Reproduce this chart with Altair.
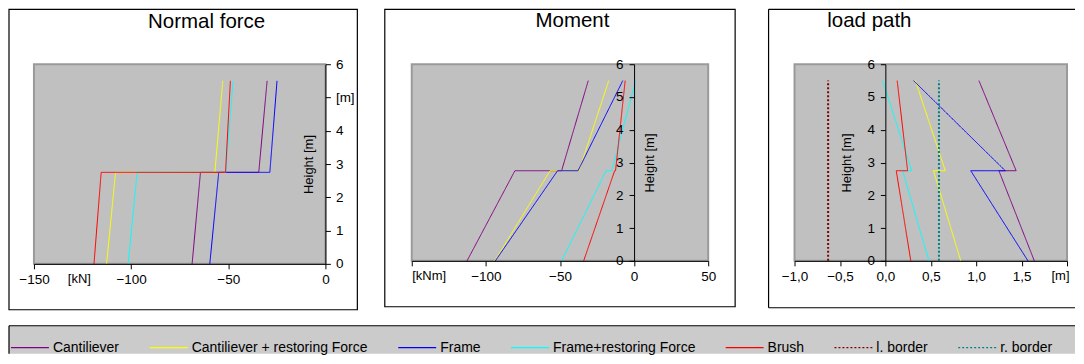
import altair as alt
import pandas as pd

FONT = "Liberation Sans"

SERIES = ["Cantiliever", "Cantiliever + restoring Force", "Frame",
          "Frame+restoring Force", "Brush", "l. border", "r. border"]
COLORS = ["#800080", "#ffff00", "#0000ff", "#00ffff", "#ff0000", "#800000", "#008080"]
DASHES = [[1, 0], [1, 0], [1, 0], [1, 0], [1, 0], [2, 2], [2, 2]]

# heights [m]: base, below storey joint, above storey joint, top
HEIGHTS = [0, 2.75, 2.75, 5.5]
BORDER_HEIGHTS = [0, 5.5]

# Normal force [kN]
N_CANT = [-68.6, -64.3, -34.3, -30.0]
N_CANT_R = [-112.6, -108.0, -56.9, -52.8]
N_FRAME = [-59.5, -54.9, -28.6, -24.9]
N_FRAME_R = [-101.5, -96.9, -51.3, -47.5]
N_BRUSH = [-119.1, -115.4, -51.4, -48.9]

# Moment [kNm]
M_CANT = [-112.7, -80.4, -48.9, -30.9]
M_CANT_R = [-94.0, -56.7, -37.1, -17.1]
M_FRAME = [-93.6, -51.6, -37.8, -7.6]
M_FRAME_R = [-48.9, -18.9, -15.1, 1.1]
M_BRUSH = [-34.0, -13.1, -12.5, -6.0]

# Load path [m]
L_CANT = [1.64, 1.25, 1.44, 1.03]
L_CANT_R = [0.83, 0.53, 0.66, 0.33]
L_FRAME = [1.57, 0.94, 1.32, 0.31]
L_FRAME_R = [0.48, 0.19, 0.29, -0.03]
L_BRUSH = [0.28, 0.12, 0.245, 0.13]
L_LEFT = [-0.63, -0.63]
L_RIGHT = [0.59, 0.59]

Y_TICKS = [0, 1, 2, 3, 4, 5, 6]
N_TICKS = [-150, -100, -50, 0]
M_TICKS = [-150, -100, -50, 0, 50]
L_TICKS = [-1.0, -0.5, 0.0, 0.5, 1.0, 1.5, 2.0]


def frame(series_values, heights):
    rows = []
    for name, vals in series_values:
        for i, (v, h) in enumerate(zip(vals, heights)):
            rows.append({"series": name, "idx": i, "value": v, "height": h})
    return pd.DataFrame(rows)


df_n = frame(list(zip(SERIES[:5], [N_CANT, N_CANT_R, N_FRAME, N_FRAME_R, N_BRUSH])), HEIGHTS)
df_m = frame(list(zip(SERIES[:5], [M_CANT, M_CANT_R, M_FRAME, M_FRAME_R, M_BRUSH])), HEIGHTS)
df_l = frame(list(zip(SERIES[:5], [L_CANT, L_CANT_R, L_FRAME, L_FRAME_R, L_BRUSH])), HEIGHTS)
df_b = frame(list(zip(SERIES[5:], [L_LEFT, L_RIGHT])), BORDER_HEIGHTS)

one = pd.DataFrame({"a": [0]})

legend = alt.Legend(orient="none", legendX=-24, legendY=264, direction="horizontal",
                    columns=7, title=None, symbolType="stroke", symbolSize=1444,
                    symbolStrokeWidth=1.3, labelFontSize=14, labelFont=FONT,
                    labelColor="black", columnPadding=27, padding=0, labelOffset=3,
                    labelLimit=400)
color = alt.Color("series:N", scale=alt.Scale(domain=SERIES, range=COLORS), legend=legend)
dash = alt.StrokeDash("series:N", scale=alt.Scale(domain=SERIES, range=DASHES), legend=legend)
order = alt.Order("idx:Q")


def title_text(txt, x, y):
    return alt.Chart(one).mark_text(fontSize=20.5, font=FONT, align="center",
                                    baseline="alphabetic", color="black").encode(
        x=alt.value(x), y=alt.value(y), text=alt.value(txt))


def box(x1, x2, y1, y2):
    return alt.Chart(one).mark_rect(fill=None, stroke="black", strokeWidth=1.2).encode(
        x=alt.value(x1), x2=alt.value(x2), y=alt.value(y1), y2=alt.value(y2))


def plot_bg(w, h):
    return alt.Chart(one).mark_rect(fill="#c0c0c0", stroke="#9a9a9a", strokeWidth=2).encode(
        x=alt.value(0), x2=alt.value(w), y=alt.value(0), y2=alt.value(h))


def hrule(x1, x2, y, w=1.2):
    return alt.Chart(one).mark_rule(color="black", strokeWidth=w).encode(
        x=alt.value(x1), x2=alt.value(x2), y=alt.value(y))


def vrule(x, y1, y2, w=1.2):
    return alt.Chart(one).mark_rule(color="black", strokeWidth=w).encode(
        x=alt.value(x), y=alt.value(y1), y2=alt.value(y2))


W1, W2, W3, H1, H2 = 292, 297, 273, 200, 197

# ---------- Panel 1: Normal force ----------
x1 = alt.X("value:Q", scale=alt.Scale(domain=[-150, 0], nice=False, zero=False),
           axis=alt.Axis(values=N_TICKS, title="[kN]", titleX=45, titleY=9,
                         titleAlign="center", titleBaseline="top", labelPadding=4,
                         labelFlush=False, labelOverlap=False, zindex=2))
y1 = alt.Y("height:Q", scale=alt.Scale(domain=[0, 6], nice=False, zero=False),
           axis=alt.Axis(orient="right", values=Y_TICKS,
                         labelExpr="datum.value == 5 ? '[m]' : datum.label",
                         title="Height [m]", titleAngle=270, titleX=-10, titleY=H1 / 2,
                         titleAlign="center", titleBaseline="bottom", labelPadding=5,
                         labelFlush=False, labelOverlap=False, zindex=2))
lines1 = alt.Chart(df_n).mark_line(strokeWidth=1).encode(x=x1, y=y1, color=color,
                                                         strokeDash=dash, order=order)
legend_fill = alt.Chart(one).mark_rect(fill="#cbcbcb").encode(
    x=alt.value(-25), x2=alt.value(1043), y=alt.value(262), y2=alt.value(290))
panel1 = alt.layer(
    legend_fill, hrule(-25, 1043, 262), vrule(-25, 262, 290),
    box(-25, 324, -55, 246),
    plot_bg(W1, H1),
    lines1,
    title_text("Normal force", 173, -36),
).properties(width=W1, height=H1)

# ---------- Panel 2: Moment ----------
x2 = alt.X("value:Q", scale=alt.Scale(domain=[-150, 50], nice=False, zero=False),
           axis=alt.Axis(values=M_TICKS, labelExpr="datum.value == -150 ? '' : datum.label",
                         title="[kNm]", titleX=0, titleY=9, titleAlign="left",
                         titleBaseline="top", labelPadding=4, labelFlush=False,
                         labelOverlap=False, zindex=2))
y2 = alt.Y("height:Q", scale=alt.Scale(domain=[0, 6], nice=False, zero=False),
           axis=alt.Axis(orient="left", offset=-W2 * 150 / 200, values=Y_TICKS,
                         title="Height [m]", titleAngle=270, titleX=9, titleY=H2 / 2,
                         titleAlign="center", titleBaseline="top", labelPadding=6,
                         labelFlush=False, labelOverlap=False, zindex=2))
lines2 = alt.Chart(df_m).mark_line(strokeWidth=1).encode(x=x2, y=y2, color=color,
                                                         strokeDash=dash, order=order)
panel2 = alt.layer(
    box(-27, 324, -55, 243),
    plot_bg(W2, H2),
    lines2,
    title_text("Moment", 161, -37),
).properties(width=W2, height=H2)

# ---------- Panel 3: load path ----------
x3 = alt.X("value:Q", scale=alt.Scale(domain=[-1, 2], nice=False, zero=False),
           axis=alt.Axis(values=L_TICKS,
                         labelExpr="datum.value == 2 ? '' : replace(format(datum.value, '.1f'), '.', ',')",
                         title="[m]", titleX=W3 + 2, titleY=9, titleAlign="right",
                         titleBaseline="top", labelPadding=4, labelFlush=False,
                         labelOverlap=False, zindex=2))
y3 = alt.Y("height:Q", scale=alt.Scale(domain=[0, 6], nice=False, zero=False),
           axis=alt.Axis(orient="left", offset=-W3 / 3, values=Y_TICKS,
                         title="Height [m]", titleAngle=270, titleX=-32, titleY=H2 / 2,
                         titleAlign="center", titleBaseline="bottom", labelPadding=6,
                         labelFlush=False, labelOverlap=False, zindex=2))
lines3 = alt.Chart(df_l).mark_line(strokeWidth=1).encode(x=x3, y=y3, color=color,
                                                         strokeDash=dash, order=order)
borders3 = alt.Chart(df_b).mark_line(strokeWidth=2).encode(x=x3, y=y3, color=color,
                                                           strokeDash=dash, order=order)
panel3 = alt.layer(
    vrule(-26, -55, 244), hrule(-26, 281, -55), hrule(-26, 281, 244),
    plot_bg(W3, H2),
    lines3, borders3,
    title_text("load path", 75, -37),
).properties(width=W3, height=H2)

chart = alt.hconcat(panel1, panel2, panel3, spacing=86.5, bounds="flush").properties(
    padding=0, background="white"
).configure_view(
    stroke=None
).configure_axis(
    grid=False, domainColor="black", tickColor="black", labelColor="black",
    titleColor="black", labelFont=FONT, titleFont=FONT, labelFontSize=13.5,
    titleFontSize=13, titleFontWeight="normal", tickSize=5, domainWidth=1, tickWidth=1
)

chart.save("out.html", embed_options={"renderer": "svg", "actions": False})
